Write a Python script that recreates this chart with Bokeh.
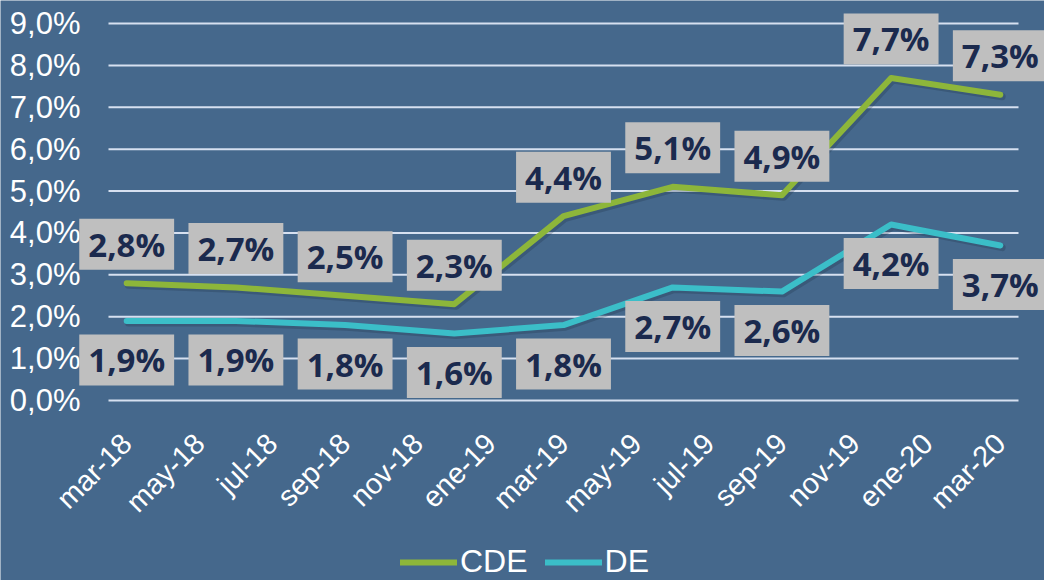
import math
from bokeh.plotting import figure
from bokeh.models import (FixedTicker, Label, Legend, LegendItem, Range1d)
from bokeh.embed import file_html
from bokeh.resources import INLINE

# ---- data ----
periods = ["mar-18", "jun-18", "sep-18", "dic-18", "mar-19", "jun-19", "sep-19", "dic-19", "mar-20"]
month_index = [0, 3, 6, 9, 12, 15, 18, 21, 24]
cde = [2.8, 2.7, 2.5, 2.3, 4.4, 5.1, 4.9, 7.7, 7.3]
de = [1.9, 1.9, 1.8, 1.6, 1.8, 2.7, 2.6, 4.2, 3.7]
tick_months = [0, 2, 4, 6, 8, 10, 12, 14, 16, 18, 20, 22, 24]
tick_labels = ["mar-18", "may-18", "jul-18", "sep-18", "nov-18", "ene-19", "mar-19",
               "may-19", "jul-19", "sep-19", "nov-19", "ene-20", "mar-20"]
y_ticks = [0, 1, 2, 3, 4, 5, 6, 7, 8, 9]

BG = "#45688C"
GREEN = "#8DB63A"
CYAN = "#3BBEC8"
GRID = "#D6E0F0"
BOX = "#BFBFBF"
TXT = "#1B2A4E"

X_LO, X_HI = -0.5, 24.5   # plot-area extent in month units


def pct(v):
    return f"{v:.1f}%".replace(".", ",")


p = figure(width=1044, height=580, output_backend="svg", toolbar_location=None,
           x_range=Range1d(-3.467, 25.214), y_range=Range1d(-4.297, 9.549),
           min_border_left=0, min_border_right=0, min_border_top=0,
           min_border_bottom=0)
p.background_fill_color = BG
p.border_fill_color = BG
p.outline_line_color = None
p.xgrid.grid_line_color = None
p.ygrid.grid_line_color = None

# horizontal gridlines limited to the plot area
p.segment(x0=[X_LO] * len(y_ticks), x1=[X_HI] * len(y_ticks), y0=y_ticks, y1=y_ticks,
          line_color=GRID, line_width=2)

# axes fixed inside the frame
p.yaxis.fixed_location = X_LO
p.yaxis.ticker = FixedTicker(ticks=y_ticks)
p.yaxis.major_label_overrides = {t: pct(t) for t in y_ticks}
p.yaxis.axis_line_color = None
p.yaxis.major_tick_line_color = None
p.yaxis.minor_tick_line_color = None
p.yaxis.major_tick_out = 0
p.yaxis.major_tick_in = 0
p.yaxis.major_label_standoff = 28
p.yaxis.major_label_text_font = "Liberation Sans"
p.yaxis.major_label_text_font_size = "31px"
p.yaxis.major_label_text_color = "white"

p.xaxis.fixed_location = 0
p.xaxis.ticker = FixedTicker(ticks=tick_months)
p.xaxis.major_label_overrides = dict(zip(tick_months, tick_labels))
p.xaxis.major_label_orientation = math.pi / 4
p.xaxis.axis_line_color = None
p.xaxis.major_tick_line_color = None
p.xaxis.minor_tick_line_color = None
p.xaxis.major_tick_out = 0
p.xaxis.major_tick_in = 0
p.xaxis.major_label_standoff = 38
p.xaxis.major_label_text_font = "Liberation Sans"
p.xaxis.major_label_text_font_size = "29px"
p.xaxis.major_label_text_color = "white"

# shadows
p.line([m + 0.05 for m in month_index], [v - 0.05 for v in cde], line_width=7,
       line_color="#1a2a40", line_alpha=0.25, line_join="round", line_cap="round")
p.line([m + 0.05 for m in month_index], [v - 0.05 for v in de], line_width=7,
       line_color="#1a2a40", line_alpha=0.25, line_join="round", line_cap="round")

# lines
r_cde = p.line(month_index, cde, line_width=6, line_color=GREEN,
               line_join="round", line_cap="round")
r_de = p.line(month_index, de, line_width=6, line_color=CYAN,
              line_join="round", line_cap="round")

# data labels
for m, v in zip(month_index, cde):
    p.add_layout(Label(x=m, y=v, text=pct(v), y_offset=39, text_align="center",
                       text_baseline="middle", text_font="Open Sans",
                       text_font_style="bold", text_font_size="33px",
                       text_color=TXT, background_fill_color=BOX,
                       padding=(9, 3)))
for m, v in zip(month_index, de):
    p.add_layout(Label(x=m, y=v, text=pct(v), y_offset=-39, text_align="center",
                       text_baseline="middle", text_font="Open Sans",
                       text_font_style="bold", text_font_size="33px",
                       text_color=TXT, background_fill_color=BOX,
                       padding=(9, 3)))

legend = Legend(items=[LegendItem(label="CDE", renderers=[r_cde]),
                       LegendItem(label="DE", renderers=[r_de])],
                orientation="horizontal", location=(400, 0),
                background_fill_alpha=0, border_line_color=None,
                label_text_font="Liberation Sans", label_text_font_size="32px",
                label_text_color="white", label_text_baseline="middle",
                glyph_width=57, glyph_height=30, label_standoff=3, spacing=17,
                padding=0, margin=0)
p.add_layout(legend)

open("out.html", "w").write(file_html(p, INLINE))
